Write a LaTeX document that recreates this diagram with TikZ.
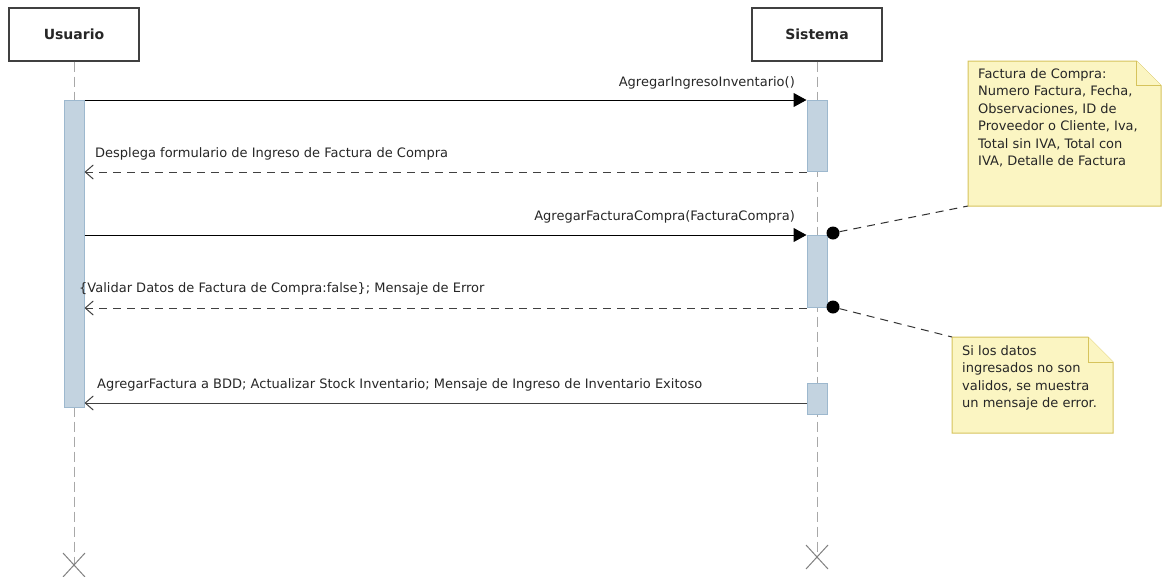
\documentclass[tikz,border=0pt]{standalone}
\usepackage{fontspec}
\setmainfont{DejaVu Sans}
\usetikzlibrary{arrows.meta}
\definecolor{actfill}{HTML}{C3D3E0}
\definecolor{actborder}{HTML}{9DB8CE}
\definecolor{notefill}{HTML}{FBF5C2}
\definecolor{noteborder}{HTML}{D6C35C}
\definecolor{lifegray}{HTML}{A8A8A8}
\definecolor{msggray}{HTML}{404040}
\begin{document}
\begin{tikzpicture}[x=1pt,y=-1pt,
 header/.style={draw=black!75, line width=1.2pt, fill=white, minimum width=130pt, minimum height=53pt, font=\fontsize{14}{16}\selectfont\bfseries, text=black!85, inner sep=0pt},
 lifeline/.style={draw=lifegray, line width=1pt, dash pattern=on 10pt off 5pt},
 xmark/.style={draw=gray, line width=1pt},
 actbar/.style={draw=actborder, fill=actfill, line width=1pt, minimum width=20pt, inner sep=0pt, anchor=north},
 callmsg/.style={draw=black, line width=1pt, -{Triangle[length=13pt,width=14pt]}},
 retmsg/.style={draw=msggray, line width=1pt, dash pattern=on 8pt off 6pt, -{Straight Barb[length=8pt,width=14pt]}},
 solidret/.style={draw=msggray, line width=1pt, -{Straight Barb[length=8pt,width=14pt]}},
 msglabel/.style={font=\fontsize{13}{15}\selectfont, inner sep=0pt, text=black!85},
 notetext/.style={font=\fontsize{13}{17.5}\selectfont, inner sep=0pt, align=left, anchor=north west, text=black!85},
 notelink/.style={draw=black!80, line width=1pt, dash pattern=on 8pt off 6pt},
 anchordot/.style={circle, fill=black, minimum size=13pt, inner sep=0pt},
 notebox/.style={draw=noteborder, fill=notefill, line width=1pt}
]
\useasboundingbox (0,0) rectangle (1162,576);

% headers
\node[header] (usr) at (74,34.5) {Usuario};
\node[header] (sys) at (817,34.5) {Sistema};

% lifeline ends
\coordinate (uend) at (74,565);
\coordinate (send) at (817,557);
\draw[lifeline] (usr.south) -- (uend);
\draw[lifeline] (sys.south) -- (send);
\draw[xmark] (63,553) -- (85,577) (85,553) -- (63,577);
\draw[xmark] (806,545) -- (828,569) (828,545) -- (806,569);

% activation bars
\node[actbar, minimum height=307pt] (ub) at (74,100) {};
\node[actbar, minimum height=71pt] (sb1) at (817,100) {};
\node[actbar, minimum height=72pt] (sb2) at (817,235) {};
\node[actbar, minimum height=31pt] (sb3) at (817,383) {};

% messages
\draw[callmsg] (ub.north east) -- (sb1.north west);
\node[msglabel, anchor=base east] (l1) at (795,86) {AgregarIngresoInventario()};

\draw[retmsg] (sb1.south west) -- (ub.east |- sb1.south west);
\node[msglabel, anchor=base west] (l2) at (95,157) {Desplega formulario de Ingreso de Factura de Compra};

\draw[callmsg] (ub.east |- sb2.north west) -- (sb2.north west);
\node[msglabel, anchor=base east] (l3) at (795,220) {AgregarFacturaCompra(FacturaCompra)};

\draw[retmsg] (sb2.south west) -- (ub.east |- sb2.south west);
\node[msglabel, anchor=base west] (l4) at (79,292) {\{Validar Datos de Factura de Compra:false\}; Mensaje de Error};

\coordinate (m5) at (807,403);
\draw[solidret] (m5) -- (ub.east |- m5);
\node[msglabel, anchor=base west] (l5) at (97,388) {AgregarFactura a BDD; Actualizar Stock Inventario; Mensaje de Ingreso de Inventario Exitoso};

% notes
\draw[notebox] (968,61) -- (1136.5,61) -- (1161,85.5) -- (1161,206) -- (968,206) -- cycle;
\draw[notebox] (1136.5,61) -- (1136.5,85.5) -- (1161,85.5);
\coordinate (n1) at (968,206);
\node[notetext] (t1) at (978,68) {Factura de Compra:\\Numero Factura, Fecha,\\Observaciones, ID de\\Proveedor o Cliente, Iva,\\Total sin IVA, Total con\\IVA, Detalle de Factura};

\draw[notebox] (952,337) -- (1088,337) -- (1113,362) -- (1113,433) -- (952,433) -- cycle;
\draw[notebox] (1088,337) -- (1088,362) -- (1113,362);
\coordinate (n2) at (952,337);
\node[notetext] (t2) at (962,345) {Si los datos\\ingresados no son\\validos, se muestra\\un mensaje de error.};

% note anchors
\node[anchordot] (d1) at (833,233) {};
\node[anchordot] (d2) at (833,307) {};
\draw[notelink] (d1) -- (n1);
\draw[notelink] (d2) -- (n2);
\end{tikzpicture}
\end{document}
